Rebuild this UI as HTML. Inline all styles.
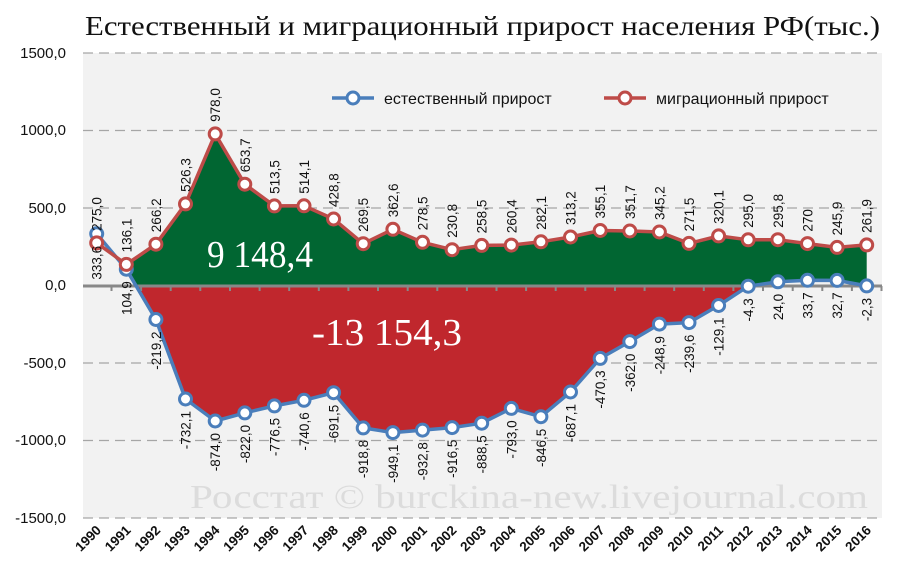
<!DOCTYPE html>
<html><head><meta charset="utf-8"><style>
html,body{margin:0;padding:0;background:#fff;}
svg{display:block;}
.t{font-family:"Liberation Sans",sans-serif;font-size:13.5px;fill:#111;}
</style></head><body>
<svg width="900" height="579" viewBox="0 0 900 579" xmlns="http://www.w3.org/2000/svg">
<rect x="83" y="53" width="799" height="465" fill="#f2f2f2"/>
<g stroke="#a6a6a6" stroke-width="1.3" stroke-dasharray="10,6">
<line x1="83" y1="53" x2="882" y2="53"/><line x1="83" y1="130.5" x2="882" y2="130.5"/>
<line x1="83" y1="208" x2="882" y2="208"/><line x1="83" y1="363" x2="882" y2="363"/>
<line x1="83" y1="440.5" x2="882" y2="440.5"/><line x1="83" y1="518" x2="882" y2="518"/>
</g>
<text x="85" y="35" font-family="Liberation Serif,serif" font-size="27" fill="#111" textLength="795" lengthAdjust="spacingAndGlyphs">Естественный и миграционный прирост населения РФ(тыс.)</text>
<g font-family="Liberation Sans,sans-serif" font-size="15" fill="#111" text-anchor="end">
<text x="66" y="58">1500,0</text><text x="66" y="135">1000,0</text><text x="66" y="213">500,0</text>
<text x="66" y="290">0,0</text><text x="66" y="368">-500,0</text><text x="66" y="445">-1000,0</text><text x="66" y="523">-1500,0</text>
</g>
<text x="190" y="508" font-family="Liberation Serif,serif" font-size="34" fill="#dcdcdc" textLength="678" lengthAdjust="spacingAndGlyphs">Росстат © burckina-new.livejournal.com</text>
<polygon fill="#016632" points="126.3,264.4 155.9,244.2 185.5,203.9 215.2,133.9 244.8,184.2 274.4,205.9 304.0,205.8 333.6,219.0 363.2,243.7 392.9,229.3 422.5,242.3 452.1,249.7 481.7,245.4 511.3,245.1 540.9,241.8 570.5,237.0 600.2,230.5 629.8,231.0 659.4,232.0 689.0,243.4 718.6,235.9 748.2,239.8 777.9,239.7 807.5,243.6 837.1,247.4 866.7,244.9 866.7,285.5 837.1,280.4 807.5,280.3 777.9,281.8 760,285.5 135.9,285.5 126.3,269.2"/>
<polygon fill="#c0272d" points="135.9,285.5 155.9,319.5 185.5,399.0 215.2,421.0 244.8,412.9 274.4,405.9 304.0,400.3 333.6,392.7 363.2,427.9 392.9,432.6 422.5,430.1 452.1,427.6 481.7,423.2 511.3,408.4 540.9,416.7 570.5,392.0 600.2,358.4 629.8,341.6 659.4,324.1 689.0,322.6 718.6,305.5 748.2,286.2 748.2,285.5"/>
<line x1="83" y1="286" x2="882" y2="286" stroke="#888" stroke-width="3"/>
<g stroke="#888" stroke-width="2">
<path d="M111.5 286v5M141.1 286v5M170.7 286v5M200.3 286v5M230 286v5M259.6 286v5M289.2 286v5M318.8 286v5M348.4 286v5M378 286v5M407.7 286v5M437.3 286v5M466.9 286v5M496.5 286v5M526.1 286v5M555.7 286v5M585.3 286v5M615 286v5M644.6 286v5M674.2 286v5M703.8 286v5M733.4 286v5M763 286v5M792.7 286v5M822.3 286v5M851.9 286v5M881.5 286v5"/>
</g>
<text x="207" y="267" font-family="Liberation Serif,serif" font-size="38" fill="#fff" textLength="106" lengthAdjust="spacingAndGlyphs">9 148,4</text>
<text x="312" y="345" font-family="Liberation Serif,serif" font-size="38" fill="#fff" textLength="150" lengthAdjust="spacingAndGlyphs">-13 154,3</text>
<polyline fill="none" stroke="#4a7ebb" stroke-width="3.5" stroke-linejoin="round" points="96.7,233.8 126.3,269.2 155.9,319.5 185.5,399.0 215.2,421.0 244.8,412.9 274.4,405.9 304.0,400.3 333.6,392.7 363.2,427.9 392.9,432.6 422.5,430.1 452.1,427.6 481.7,423.2 511.3,408.4 540.9,416.7 570.5,392.0 600.2,358.4 629.8,341.6 659.4,324.1 689.0,322.6 718.6,305.5 748.2,286.2 777.9,281.8 807.5,280.3 837.1,280.4 866.7,285.9"/>
<polyline fill="none" stroke="#be4b48" stroke-width="3.5" stroke-linejoin="round" points="96.7,242.9 126.3,264.4 155.9,244.2 185.5,203.9 215.2,133.9 244.8,184.2 274.4,205.9 304.0,205.8 333.6,219.0 363.2,243.7 392.9,229.3 422.5,242.3 452.1,249.7 481.7,245.4 511.3,245.1 540.9,241.8 570.5,237.0 600.2,230.5 629.8,231.0 659.4,232.0 689.0,243.4 718.6,235.9 748.2,239.8 777.9,239.7 807.5,243.6 837.1,247.4 866.7,244.9"/>
<g fill="#fff" stroke="#4a7ebb" stroke-width="3">
<circle cx="96.7" cy="233.8" r="6"/><circle cx="126.3" cy="269.2" r="6"/><circle cx="155.9" cy="319.5" r="6"/><circle cx="185.5" cy="399.0" r="6"/><circle cx="215.2" cy="421.0" r="6"/><circle cx="244.8" cy="412.9" r="6"/><circle cx="274.4" cy="405.9" r="6"/><circle cx="304.0" cy="400.3" r="6"/><circle cx="333.6" cy="392.7" r="6"/><circle cx="363.2" cy="427.9" r="6"/><circle cx="392.9" cy="432.6" r="6"/><circle cx="422.5" cy="430.1" r="6"/><circle cx="452.1" cy="427.6" r="6"/><circle cx="481.7" cy="423.2" r="6"/><circle cx="511.3" cy="408.4" r="6"/><circle cx="540.9" cy="416.7" r="6"/><circle cx="570.5" cy="392.0" r="6"/><circle cx="600.2" cy="358.4" r="6"/><circle cx="629.8" cy="341.6" r="6"/><circle cx="659.4" cy="324.1" r="6"/><circle cx="689.0" cy="322.6" r="6"/><circle cx="718.6" cy="305.5" r="6"/><circle cx="748.2" cy="286.2" r="6"/><circle cx="777.9" cy="281.8" r="6"/><circle cx="807.5" cy="280.3" r="6"/><circle cx="837.1" cy="280.4" r="6"/><circle cx="866.7" cy="285.9" r="6"/>
</g>
<g fill="#fff" stroke="#be4b48" stroke-width="3">
<circle cx="96.7" cy="242.9" r="6"/><circle cx="126.3" cy="264.4" r="6"/><circle cx="155.9" cy="244.2" r="6"/><circle cx="185.5" cy="203.9" r="6"/><circle cx="215.2" cy="133.9" r="6"/><circle cx="244.8" cy="184.2" r="6"/><circle cx="274.4" cy="205.9" r="6"/><circle cx="304.0" cy="205.8" r="6"/><circle cx="333.6" cy="219.0" r="6"/><circle cx="363.2" cy="243.7" r="6"/><circle cx="392.9" cy="229.3" r="6"/><circle cx="422.5" cy="242.3" r="6"/><circle cx="452.1" cy="249.7" r="6"/><circle cx="481.7" cy="245.4" r="6"/><circle cx="511.3" cy="245.1" r="6"/><circle cx="540.9" cy="241.8" r="6"/><circle cx="570.5" cy="237.0" r="6"/><circle cx="600.2" cy="230.5" r="6"/><circle cx="629.8" cy="231.0" r="6"/><circle cx="659.4" cy="232.0" r="6"/><circle cx="689.0" cy="243.4" r="6"/><circle cx="718.6" cy="235.9" r="6"/><circle cx="748.2" cy="239.8" r="6"/><circle cx="777.9" cy="239.7" r="6"/><circle cx="807.5" cy="243.6" r="6"/><circle cx="837.1" cy="247.4" r="6"/><circle cx="866.7" cy="244.9" r="6"/>
</g>
<g class="t">
<text transform="translate(101.7,230.9) rotate(-90)">275,0</text>
<text transform="translate(131.3,252.4) rotate(-90)">136,1</text>
<text transform="translate(160.9,232.2) rotate(-90)">266,2</text>
<text transform="translate(190.5,191.9) rotate(-90)">526,3</text>
<text transform="translate(220.2,121.9) rotate(-90)">978,0</text>
<text transform="translate(249.8,172.2) rotate(-90)">653,7</text>
<text transform="translate(279.4,193.9) rotate(-90)">513,5</text>
<text transform="translate(309,193.8) rotate(-90)">514,1</text>
<text transform="translate(338.6,207) rotate(-90)">428,8</text>
<text transform="translate(368.2,231.7) rotate(-90)">269,5</text>
<text transform="translate(397.9,217.3) rotate(-90)">362,6</text>
<text transform="translate(427.5,230.3) rotate(-90)">278,5</text>
<text transform="translate(457.1,237.7) rotate(-90)">230,8</text>
<text transform="translate(486.7,233.4) rotate(-90)">258,5</text>
<text transform="translate(516.3,233.1) rotate(-90)">260,4</text>
<text transform="translate(545.9,229.8) rotate(-90)">282,1</text>
<text transform="translate(575.5,225) rotate(-90)">313,2</text>
<text transform="translate(605.2,218.5) rotate(-90)">355,1</text>
<text transform="translate(634.8,219) rotate(-90)">351,7</text>
<text transform="translate(664.4,220) rotate(-90)">345,2</text>
<text transform="translate(694,231.4) rotate(-90)">271,5</text>
<text transform="translate(723.6,223.9) rotate(-90)">320,1</text>
<text transform="translate(753.2,227.8) rotate(-90)">295,0</text>
<text transform="translate(782.9,227.7) rotate(-90)">295,8</text>
<text transform="translate(812.5,231.6) rotate(-90)">270</text>
<text transform="translate(842.1,235.4) rotate(-90)">245,9</text>
<text transform="translate(871.7,232.9) rotate(-90)">261,9</text>
</g>
<g class="t" text-anchor="end">
<text transform="translate(101.7,245.8) rotate(-90)">333,6</text>
<text transform="translate(131.3,281.2) rotate(-90)">104,9</text>
<text transform="translate(160.9,331.5) rotate(-90)">-219,2</text>
<text transform="translate(190.5,411) rotate(-90)">-732,1</text>
<text transform="translate(220.2,433) rotate(-90)">-874,0</text>
<text transform="translate(249.8,424.9) rotate(-90)">-822,0</text>
<text transform="translate(279.4,417.9) rotate(-90)">-776,5</text>
<text transform="translate(309,412.3) rotate(-90)">-740,6</text>
<text transform="translate(338.6,404.7) rotate(-90)">-691,5</text>
<text transform="translate(368.2,439.9) rotate(-90)">-918,8</text>
<text transform="translate(397.9,444.6) rotate(-90)">-949,1</text>
<text transform="translate(427.5,442.1) rotate(-90)">-932,8</text>
<text transform="translate(457.1,439.6) rotate(-90)">-916,5</text>
<text transform="translate(486.7,435.2) rotate(-90)">-888,5</text>
<text transform="translate(516.3,420.4) rotate(-90)">-793,0</text>
<text transform="translate(545.9,428.7) rotate(-90)">-846,5</text>
<text transform="translate(575.5,404) rotate(-90)">-687,1</text>
<text transform="translate(605.2,370.4) rotate(-90)">-470,3</text>
<text transform="translate(634.8,353.6) rotate(-90)">-362,0</text>
<text transform="translate(664.4,336.1) rotate(-90)">-248,9</text>
<text transform="translate(694,334.6) rotate(-90)">-239,6</text>
<text transform="translate(723.6,317.5) rotate(-90)">-129,1</text>
<text transform="translate(753.2,298.2) rotate(-90)">-4,3</text>
<text transform="translate(782.9,293.8) rotate(-90)">24,0</text>
<text transform="translate(812.5,292.3) rotate(-90)">33,7</text>
<text transform="translate(842.1,292.4) rotate(-90)">32,7</text>
<text transform="translate(871.7,297.9) rotate(-90)">-2,3</text>
</g>
<g font-family="Liberation Sans,sans-serif" font-size="13.5" font-weight="bold" fill="#111" text-anchor="end">
<text transform="translate(102,531) rotate(-45)">1990</text>
<text transform="translate(131.6,531) rotate(-45)">1991</text>
<text transform="translate(161.2,531) rotate(-45)">1992</text>
<text transform="translate(190.8,531) rotate(-45)">1993</text>
<text transform="translate(220.5,531) rotate(-45)">1994</text>
<text transform="translate(250.1,531) rotate(-45)">1995</text>
<text transform="translate(279.7,531) rotate(-45)">1996</text>
<text transform="translate(309.3,531) rotate(-45)">1997</text>
<text transform="translate(338.9,531) rotate(-45)">1998</text>
<text transform="translate(368.5,531) rotate(-45)">1999</text>
<text transform="translate(398.2,531) rotate(-45)">2000</text>
<text transform="translate(427.8,531) rotate(-45)">2001</text>
<text transform="translate(457.4,531) rotate(-45)">2002</text>
<text transform="translate(487,531) rotate(-45)">2003</text>
<text transform="translate(516.6,531) rotate(-45)">2004</text>
<text transform="translate(546.2,531) rotate(-45)">2005</text>
<text transform="translate(575.8,531) rotate(-45)">2006</text>
<text transform="translate(605.5,531) rotate(-45)">2007</text>
<text transform="translate(635.1,531) rotate(-45)">2008</text>
<text transform="translate(664.7,531) rotate(-45)">2009</text>
<text transform="translate(694.3,531) rotate(-45)">2010</text>
<text transform="translate(723.9,531) rotate(-45)">2011</text>
<text transform="translate(753.5,531) rotate(-45)">2012</text>
<text transform="translate(783.2,531) rotate(-45)">2013</text>
<text transform="translate(812.8,531) rotate(-45)">2014</text>
<text transform="translate(842.4,531) rotate(-45)">2015</text>
<text transform="translate(872,531) rotate(-45)">2016</text>
</g>
<line x1="332" y1="98" x2="374" y2="98" stroke="#4a7ebb" stroke-width="3.5"/>
<circle cx="353" cy="98" r="6" fill="#fff" stroke="#4a7ebb" stroke-width="3"/>
<text x="384" y="104" font-family="Liberation Sans,sans-serif" font-size="16" fill="#111">естественный прирост</text>
<line x1="604" y1="98" x2="646" y2="98" stroke="#be4b48" stroke-width="3.5"/>
<circle cx="625" cy="98" r="6" fill="#fff" stroke="#be4b48" stroke-width="3"/>
<text x="656" y="104" font-family="Liberation Sans,sans-serif" font-size="16" fill="#111">миграционный прирост</text>
</svg>
</body></html>
